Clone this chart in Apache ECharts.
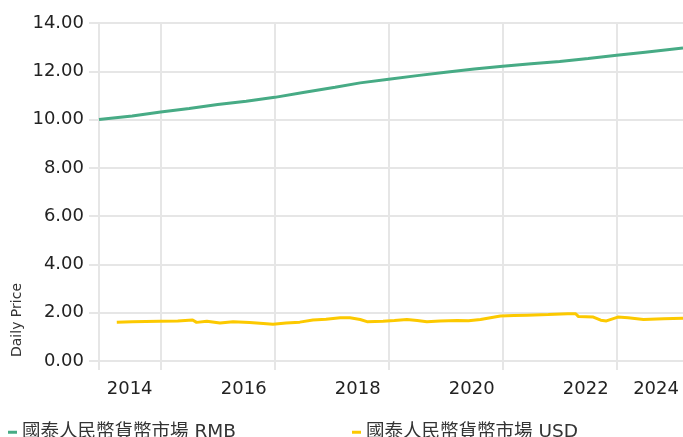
<!DOCTYPE html>
<html>
<head>
<meta charset="utf-8">
<script src="https://cdn.jsdelivr.net/npm/echarts@6/dist/echarts.min.js"></script>
<style>html,body{margin:0;padding:0;background:#fff;}#c{width:683px;height:437px;}</style>
</head>
<body>
<div id="c"></div>
<script>
// Series names
const seriesNames = ['國泰人民幣貨幣市場 RMB', '國泰人民幣貨幣市場 USD'];
// X in decimal years
const xMin = 2013.918;
const xMax = 2024.163;
const gridYears = [2013.918, 2015, 2017, 2019, 2021, 2023];
const labelPos = [2014.456, 2016.456, 2018.456, 2020.456, 2022.456, 2023.69];
const labelText = ['2014', '2016', '2018', '2020', '2022', '2024'];
// RMB class daily price
const rmbYears = [2013.918, 2014.5, 2015.0, 2015.5, 2016.0, 2016.5, 2017.0, 2017.5, 2018.06, 2018.5, 2019.0, 2019.5, 2020.0, 2020.5, 2021.0, 2021.5, 2022.0, 2022.5, 2023.0, 2023.5, 2024.163];
const rmbValues = [10.00, 10.15, 10.31, 10.46, 10.62, 10.76, 10.92, 11.12, 11.34, 11.52, 11.67, 11.82, 11.96, 12.09, 12.21, 12.31, 12.41, 12.53, 12.66, 12.79, 12.96];
// USD class daily price
const usdYears = [2014.23, 2014.5, 2014.98, 2015.3, 2015.56, 2015.63, 2015.81, 2016.04, 2016.27, 2016.56, 2016.8, 2016.97, 2017.2, 2017.44, 2017.67, 2017.9, 2018.15, 2018.32, 2018.5, 2018.62, 2018.9, 2019.1, 2019.32, 2019.5, 2019.67, 2019.9, 2020.2, 2020.4, 2020.61, 2020.96, 2021.2, 2021.43, 2021.8, 2022.14, 2022.28, 2022.33, 2022.59, 2022.72, 2022.82, 2023.02, 2023.2, 2023.47, 2023.82, 2024.163];
const usdValues = [1.61, 1.63, 1.65, 1.66, 1.70, 1.60, 1.65, 1.57, 1.63, 1.59, 1.55, 1.52, 1.57, 1.61, 1.70, 1.73, 1.79, 1.79, 1.72, 1.63, 1.65, 1.68, 1.72, 1.68, 1.63, 1.66, 1.68, 1.67, 1.72, 1.86, 1.88, 1.90, 1.93, 1.96, 1.96, 1.84, 1.82, 1.69, 1.66, 1.82, 1.79, 1.72, 1.75, 1.77];
const yTicks = {min: 0, max: 14, interval: 2};

const FONT = "'DejaVu Sans', 'Noto Sans CJK TC', sans-serif";
const GRID = '#e6e6e6';
const chart = echarts.init(document.getElementById('c'), null, {renderer: 'canvas'});
chart.setOption({
  animation: false,
  textStyle: {fontFamily: FONT},
  grid: {left: 99, right: 0, top: 23, bottom: 76, containLabel: false},
  xAxis: {
    type: 'value', min: xMin, max: xMax,
    axisLine: {show: true, lineStyle: {color: GRID, width: 2}},
    axisTick: {show: true, length: 9, customValues: gridYears, lineStyle: {color: GRID, width: 2}},
    splitLine: {show: true, lineStyle: {color: GRID, width: 2}},
    axisLabel: {
      customValues: labelPos, margin: 19, fontSize: 18, color: '#222', fontFamily: FONT,
      formatter: function (v) {
        for (let i = 0; i < labelPos.length; i++) if (Math.abs(labelPos[i] - v) < 1e-6) return labelText[i];
        return '';
      }
    }
  },
  yAxis: {
    type: 'value', min: yTicks.min, max: yTicks.max, interval: yTicks.interval,
    axisLine: {show: true, lineStyle: {color: GRID, width: 2}},
    axisTick: {show: true, length: 10, lineStyle: {color: GRID, width: 2}},
    splitLine: {show: true, lineStyle: {color: GRID, width: 2}},
    axisLabel: {margin: 15, fontSize: 18, color: '#222', fontFamily: FONT, padding: [3, 0, 0, 0],
      formatter: function (v) { return v.toFixed(2); }}
  },
  legend: [
    {data: [seriesNames[0]], left: 8, top: 423, padding: 0, itemWidth: 9, itemHeight: 3, icon: 'rect',
     textStyle: {fontSize: 18.5, color: '#333', fontFamily: FONT}},
    {data: [seriesNames[1]], left: 352, top: 423, padding: 0, itemWidth: 9, itemHeight: 3, icon: 'rect',
     textStyle: {fontSize: 18.5, color: '#333', fontFamily: FONT}}
  ],
  graphic: [{
    type: 'text', x: 17, y: 320, rotation: Math.PI / 2,
    style: {text: 'Daily Price', fontSize: 14, fill: '#333', fontFamily: FONT, align: 'center', verticalAlign: 'middle'}
  }],
  series: [
    {name: seriesNames[0], type: 'line', showSymbol: false, color: '#47ab85',
     lineStyle: {width: 3, color: '#47ab85'},
     data: rmbYears.map((x, i) => [x, rmbValues[i]])},
    {name: seriesNames[1], type: 'line', showSymbol: false, color: '#fcc900',
     lineStyle: {width: 3, color: '#fcc900'},
     data: usdYears.map((x, i) => [x, usdValues[i]])}
  ]
});
</script>
</body>
</html>
